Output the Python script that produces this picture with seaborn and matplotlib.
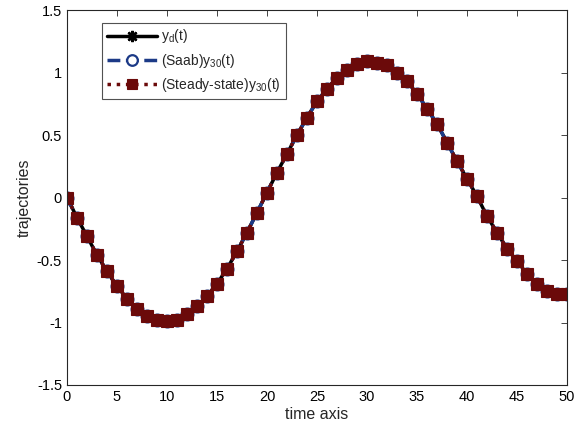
import numpy as np
import pandas as pd
import seaborn as sns
import matplotlib.pyplot as plt

t = list(range(51))
y_d = [0.00, -0.16, -0.31, -0.46, -0.59, -0.71, -0.81, -0.89, -0.95, -0.98,
       -0.99, -0.98, -0.93, -0.87, -0.79, -0.69, -0.57, -0.43, -0.28, -0.12,
       0.04, 0.20, 0.35, 0.50, 0.64, 0.77, 0.87, 0.96, 1.02, 1.07,
       1.09, 1.08, 1.06, 1.00, 0.93, 0.83, 0.71, 0.59, 0.44, 0.29,
       0.15, 0.01, -0.15, -0.28, -0.41, -0.51, -0.61, -0.69, -0.75, -0.77,
       -0.77]
y_saab = list(y_d)
y_steady = list(y_d)

sns.set_style("white")
plt.rcParams['font.family'] = ['Liberation Sans', 'DejaVu Sans']
plt.rcParams['mathtext.fontset'] = 'custom'
plt.rcParams['mathtext.rm'] = 'Liberation Sans'
plt.rcParams['mathtext.it'] = 'Liberation Sans'

fig = plt.figure(figsize=(5.84, 4.37), dpi=100)
ax = fig.add_axes([0.1147, 0.119, 0.8563, 0.858])

blue = '#1c3a87'
red = '#6b0a0a'

sns.lineplot(x=t, y=y_d, ax=ax, color='black', linewidth=2.5, marker=(8, 2, 0),
             markersize=9, markeredgewidth=1.8, markeredgecolor='black',
             label=r'y$_{\mathrm{d}}$(t)')
sns.lineplot(x=t, y=y_saab, ax=ax, color=blue, linewidth=2.5, linestyle='--',
             marker='o', markersize=8.5, markeredgewidth=1.6, markeredgecolor=blue,
             markerfacecolor='white', label=r'(Saab)y$_{\mathrm{30}}$(t)')
sns.lineplot(x=t, y=y_steady, ax=ax, color=red, linewidth=2.5, linestyle=':',
             marker='s', markersize=8.2, markeredgewidth=0.8, markeredgecolor=red,
             markerfacecolor=red, label=r'(Steady-state)y$_{\mathrm{30}}$(t)')

ax.set_xlim(0, 50)
ax.set_ylim(-1.5, 1.5)
ax.set_xticks(np.arange(0, 51, 5))
ax.set_yticks([-1.5, -1, -0.5, 0, 0.5, 1, 1.5])
ax.set_yticklabels(['-1.5', '-1', '-0.5', '0', '0.5', '1', '1.5'])
ax.tick_params(direction='in', length=4, width=0.6, top=True, right=True,
               labelsize=10.5, colors='#262626', labelcolor='black')
for s in ax.spines.values():
    s.set_visible(True)
    s.set_color('#262626')
    s.set_linewidth(0.8)
ax.set_xlabel('time axis', fontsize=11.5, labelpad=2)
ax.set_ylabel('trajectories', fontsize=11.5, labelpad=4)

leg = ax.legend(loc='upper left', bbox_to_anchor=(0.057, 0.985), fontsize=10,
                frameon=True, fancybox=False, edgecolor='#262626',
                handlelength=3.6, borderpad=0.35, labelspacing=0.45,
                handletextpad=0.3, markerscale=0.9)
leg.get_frame().set_linewidth(0.8)

fig.savefig('out.png', dpi=100)
